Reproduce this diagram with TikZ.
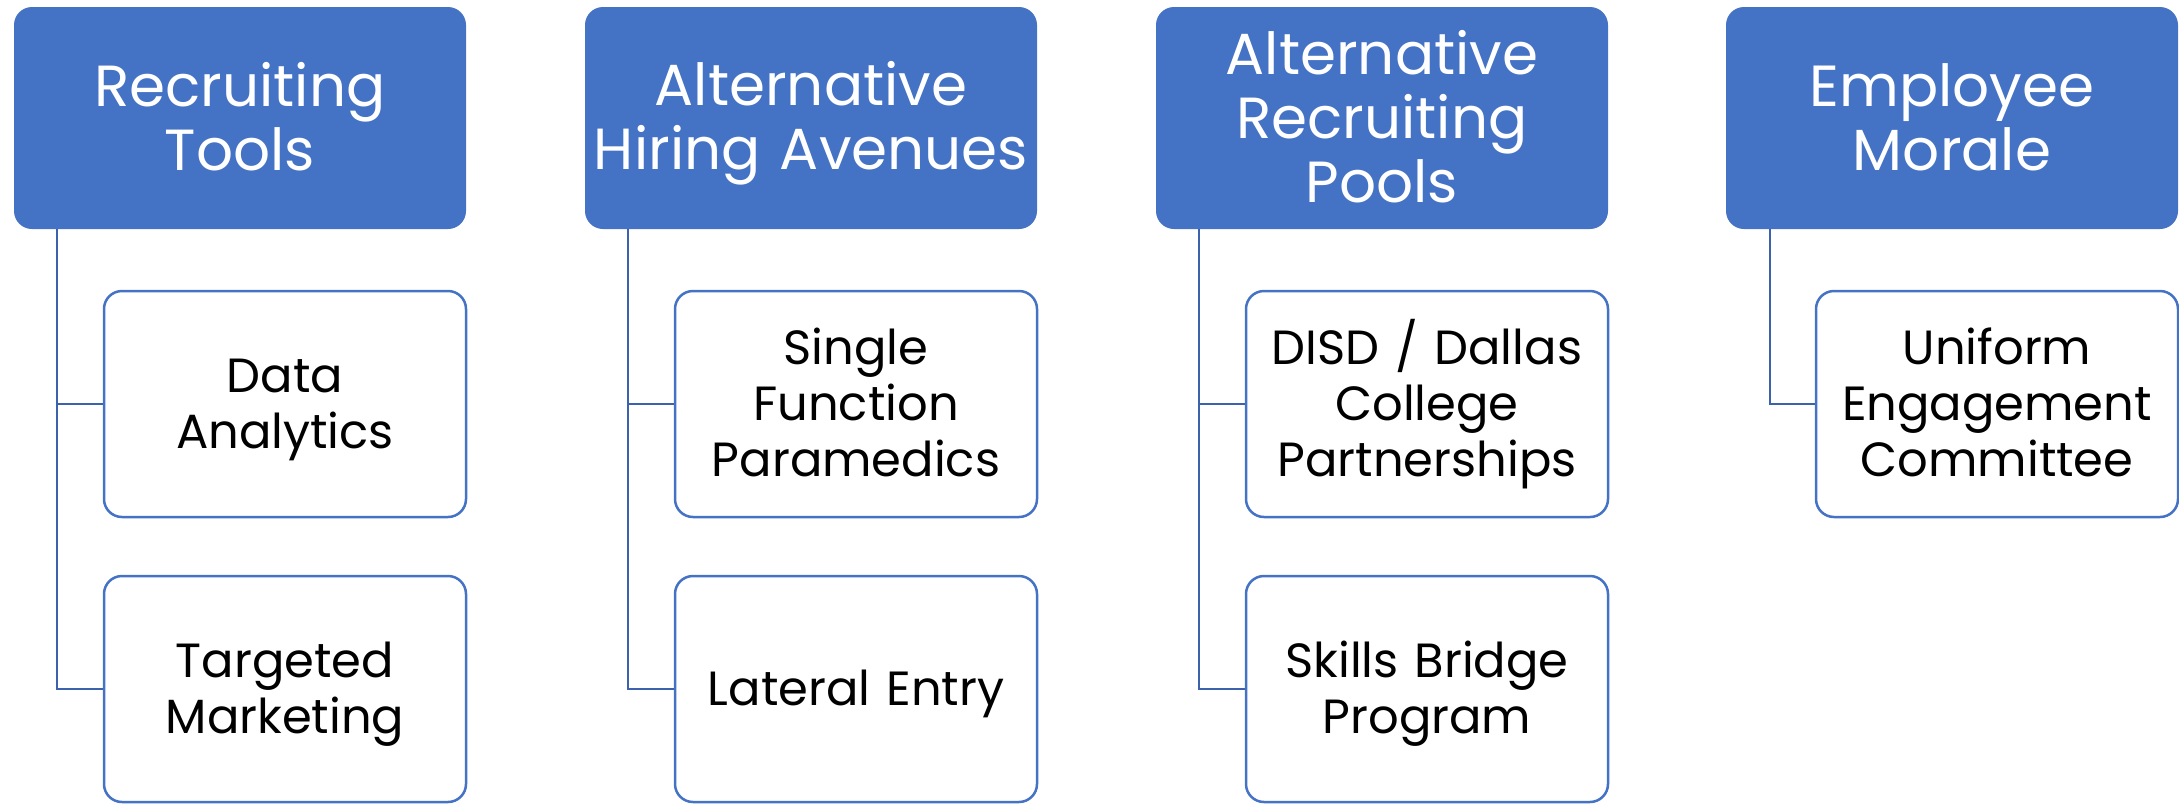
\documentclass[tikz,border=0pt]{standalone}
\usepackage{fontspec}
\setmainfont{Poppins}
\definecolor{hdrblue}{HTML}{4472C4}
\definecolor{linkblue}{HTML}{3D62AD}

\begin{document}
\begin{tikzpicture}[x=1pt,y=-1pt,
   head/.style={fill=hdrblue,rounded corners=18pt,minimum width=452pt,minimum height=222pt,
     inner sep=0pt,text width=440pt,text=white,align=center,font=\fontsize{58}{64}\selectfont,
     execute at begin node={\rule{0pt}{55pt}},execute at end node={\rule[-14pt]{0pt}{0pt}}},
   item/.style={draw=hdrblue,line width=2.5pt,fill=white,rounded corners=18pt,minimum width=362pt,
     minimum height=226pt,inner sep=0pt,text width=350pt,align=center,font=\fontsize{48}{56}\selectfont,
     execute at begin node={\rule{0pt}{46pt}},execute at end node={\rule[-13pt]{0pt}{0pt}}},
   link/.style={draw=linkblue,line width=2.5pt}]
   \useasboundingbox (0,0) rectangle (2179,804);

   % headers
   \node[head] (h1) at (240,118)  {Recruiting\\Tools};
   \node[head] (h2) at (811,118)  {Alternative\\Hiring Avenues};
   \node[head] (h3) at (1382,118) {Alternative\\Recruiting\\Pools};
   \node[head] (h4) at (1952,118) {Employee\\Morale};

   % items
   \node[item] (c11) at (285,404)  {Data\\Analytics};
   \node[item] (c12) at (285,689)  {Targeted\\Marketing};
   \node[item] (c21) at (856,404)  {Single\\Function\\Paramedics};
   \node[item] (c22) at (856,689)  {Lateral Entry};
   \node[item] (c31) at (1427,404) {DISD / Dallas\\College\\Partnerships};
   \node[item] (c32) at (1427,689) {Skills Bridge\\Program};
   \node[item] (c41) at (1997,404) {Uniform\\Engagement\\Committee};

   \coordinate (v1) at (57,229);
   \coordinate (v2) at (628,229);
   \coordinate (v3) at (1199,229);
   \coordinate (v4) at (1770,229);

   \path[link] (v1) |- (c11.west);
   \path[link] (v1) |- (c12.west);
   \path[link] (v2) |- (c21.west);
   \path[link] (v2) |- (c22.west);
   \path[link] (v3) |- (c31.west);
   \path[link] (v3) |- (c32.west);
   \path[link] (v4) |- (c41.west);
\end{tikzpicture}
\end{document}
